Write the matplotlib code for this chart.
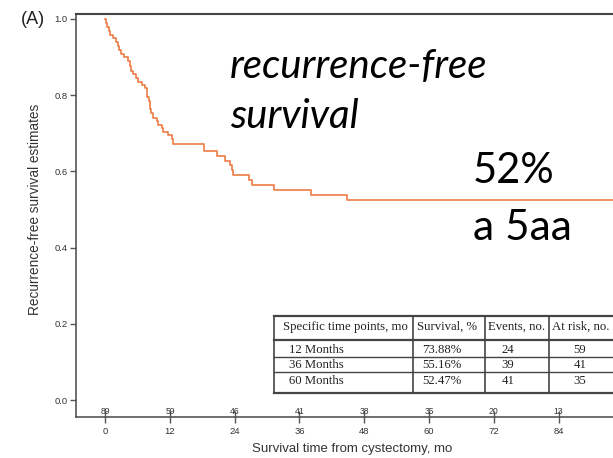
import matplotlib
matplotlib.use("Agg")
import matplotlib.pyplot as plt
from matplotlib.lines import Line2D

# Kaplan-Meier step curve: event times (months) and survival after each step
times = [0.0, 0.09, 0.32, 0.65, 0.93, 1.48, 1.95, 2.35, 2.59, 2.87, 3.52, 4.26,
         4.54, 4.73, 5.19, 5.75, 6.12, 6.76, 7.41, 7.69, 7.78, 8.06, 8.25, 8.34,
         8.52, 8.90, 9.54, 9.88, 10.51, 10.80, 11.73, 12.36, 12.66, 18.25, 20.7,
         22.24, 23.17, 23.54, 23.72, 26.74, 27.19, 31.32, 38.2, 44.8, 100.0]
survival = [1.0, 0.9895, 0.979, 0.968, 0.958, 0.950, 0.940, 0.929, 0.919, 0.908,
            0.900, 0.890, 0.877, 0.864, 0.856, 0.845, 0.835, 0.827, 0.819, 0.806,
            0.795, 0.785, 0.774, 0.764, 0.753, 0.740, 0.732, 0.722, 0.714, 0.703,
            0.695, 0.685, 0.672, 0.653, 0.640, 0.628, 0.617, 0.604, 0.591, 0.577,
            0.564, 0.5516, 0.538, 0.5247, 0.5247]

xticks = [0, 12, 24, 36, 48, 60, 72, 84]
at_risk = [89, 59, 46, 41, 38, 35, 20, 13]
yticks = [0.0, 0.2, 0.4, 0.6, 0.8, 1.0]

table_header = ["Specific time points, mo", "Survival, %", "Events, no.", "At risk, no."]
table_labels = ["12 Months", "36 Months", "60 Months"]
table_survival = ["73.88%", "55.16%", "52.47%"]
table_events = [24, 39, 41]
table_at_risk = [59, 41, 35]

W, H = 613, 458
fig = plt.figure(figsize=(W / 100, H / 100), dpi=100)


def box(left, top, right, bottom):
    return [left / W, 1 - bottom / H, (right - left) / W, (bottom - top) / H]


axis_col = "#555555"
text_col = "#333333"
sans = ["Liberation Sans", "DejaVu Sans"]

ax = fig.add_axes(box(76, 14, 640, 417))
ax.set_xlim(-5.4, 99.1)
ax.set_ylim(-0.0446, 1.013)
ax.step(times, survival, where="post", color="#EE7B45", lw=1.2)

for side in ["left", "top", "bottom"]:
    ax.spines[side].set_color(axis_col)
    ax.spines[side].set_linewidth(1.2)
ax.spines["right"].set_visible(False)
ax.spines["top"].set_color("#444444")
ax.spines["top"].set_linewidth(1.5)

ax.set_yticks(yticks)
ax.set_yticklabels([f"{v:.1f}" for v in yticks], fontsize=6.8, color=text_col,
                   family=sans)
ax.tick_params(axis="y", direction="out", length=4.5, width=1, color=axis_col, pad=1.5)
ax.set_xticks(xticks)
ax.set_xticklabels([str(v) for v in xticks], fontsize=6.8, color=text_col, family=sans)
ax.tick_params(axis="x", direction="inout", length=8, width=1, color=axis_col, pad=3)

for t, n in zip(xticks, at_risk):
    ax.text(t, -0.029, str(n), ha="center", va="center", fontsize=6.2,
            color=text_col, family=sans)

fig.text(352 / W, 1 - 449 / H, "Survival time from cystectomy, mo", ha="center",
         va="center", fontsize=9.5, color=text_col, family=sans)
fig.text(35 / W, 1 - 209 / H, "Recurrence-free survival estimates", ha="center",
         va="center", rotation=90, fontsize=9.8, color=text_col, family=sans)
fig.text(21 / W, 1 - 20 / H, "(A)", ha="left", va="center", fontsize=13,
         color="#222222", family=sans)

# Overlay captions
cap = ["Lato", "DejaVu Sans"]
fig.text(230 / W, 1 - 78 / H, "recurrence-free", ha="left", va="baseline",
         fontsize=29, style="italic", family=cap, color="black")
fig.text(230 / W, 1 - 128 / H, "survival", ha="left", va="baseline",
         fontsize=29, style="italic", family=cap, color="black")
fig.text(473 / W, 1 - 183 / H, "52%", ha="left", va="baseline",
         fontsize=30, family=cap, color="black")
fig.text(473 / W, 1 - 240 / H, "a 5aa", ha="left", va="baseline",
         fontsize=30.5, family=cap, color="black")

# Summary table drawn in local pixel coordinates
tl, tt, tr, tb = 274, 316, 614, 393
tax = fig.add_axes(box(tl, tt, tr, tb))
tax.set_xlim(0, tr - tl)
tax.set_ylim(tb - tt, 0)
tax.axis("off")
tax.patch.set_visible(False)
col_edges = [0, 139, 211, 275, 340]
row_edges = [0, 24, 41, 56, 77]
line_col = "#444444"
for x in col_edges:
    tax.add_line(Line2D([x, x], [0, row_edges[-1]], color=line_col, lw=1.2,
                        clip_on=False))
for i, y in enumerate(row_edges):
    lw = 1.6 if i in (0, 1, len(row_edges) - 1) else 1.0
    tax.add_line(Line2D([0, col_edges[-1]], [y, y], color=line_col, lw=lw,
                        clip_on=False))

serif = ["Liberation Serif", "DejaVu Serif"]
fs = 9.2
header_x = [9, 173, 243, 307]
for j, label in enumerate(table_header):
    ha = "left" if j == 0 else "center"
    tax.text(header_x[j], 11, label, ha=ha, va="center", fontsize=fs,
             family=serif, color="#222222")
row_y = [34, 49.5, 65.5]
for i in range(3):
    tax.text(15, row_y[i], table_labels[i], ha="left", va="center", fontsize=fs,
             family=serif, color="#222222")
    tax.text(168, row_y[i], table_survival[i], ha="center", va="center",
             fontsize=fs, family=serif, color="#222222")
    tax.text(234, row_y[i], str(table_events[i]), ha="center", va="center",
             fontsize=fs, family=serif, color="#222222")
    tax.text(306, row_y[i], str(table_at_risk[i]), ha="center", va="center",
             fontsize=fs, family=serif, color="#222222")

fig.savefig("out.png", dpi=100)
